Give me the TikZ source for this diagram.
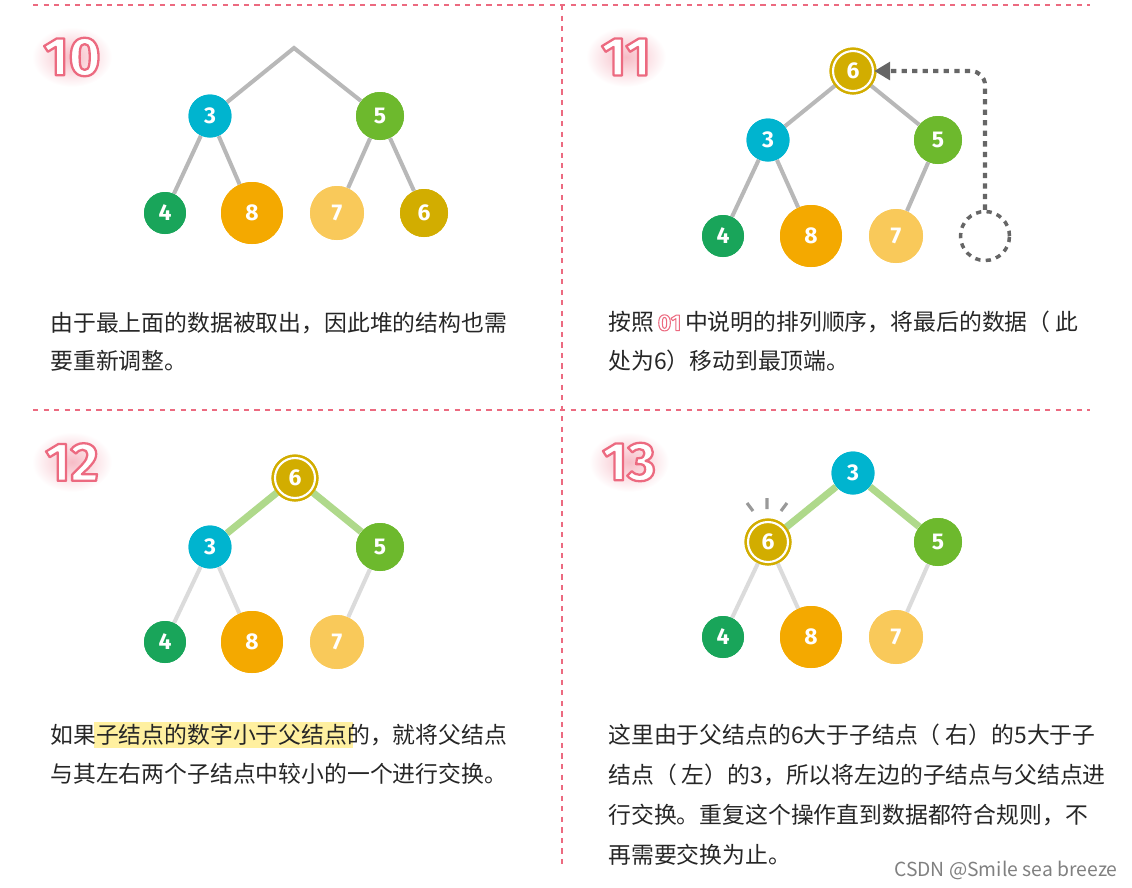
\documentclass[tikz,border=0pt]{standalone}
\usepackage{fontspec}
\setmainfont{Noto Sans CJK SC}
\newfontfamily\numfont{Fira Sans}
\usetikzlibrary{arrows.meta,calc}
\definecolor{cy}{HTML}{00B4CF}
\definecolor{gr}{HTML}{6DB92D}
\definecolor{dg}{HTML}{19A55A}
\definecolor{or}{HTML}{F4A900}
\definecolor{lo}{HTML}{F9C95A}
\definecolor{ol}{HTML}{D2AD00}
\definecolor{pk}{HTML}{EC6A80}
\definecolor{hl}{HTML}{FFF0A0}
\tikzset{
 nd/.style={circle,inner sep=0pt,text=white,font=\numfont\bfseries\fontsize{13}{13}\selectfont},
 n3/.style={nd,fill=cy,minimum size=0.86cm},
 n5/.style={nd,fill=gr,minimum size=0.96cm},
 n4/.style={nd,fill=dg,minimum size=0.84cm},
 n8/.style={nd,fill=or,minimum size=1.24cm},
 n7/.style={nd,fill=lo,minimum size=1.08cm},
 n6/.style={nd,fill=ol,minimum size=0.96cm},
 n6r/.style={nd,fill=ol,minimum size=0.8cm,double=white,draw=ol,double distance=1.2pt,line width=1.4pt},
 ed/.style={draw=black!28,line width=2.3pt},
 ge/.style={draw=gr!55,line width=4pt},
 le/.style={draw=black!14,line width=2.3pt},
 sep/.style={draw=pk,dashed,line width=0.8pt},
 tx/.style={anchor=west,inner sep=0pt,font=\fontsize{13}{14}\selectfont,text=black!85},
 bdg/.style={text=white,font=\numfont\bfseries\fontsize{31}{31}\selectfont},
}
\newcommand{\outl}[2]{\special{pdf:literal direct 0.925 0.416 0.5 RG #1 w 1 j 2 Tr}#2\special{pdf:literal direct 0 Tr}}
\newcommand{\badge}[4]{%
 \shade[inner color=pk!45,outer color=white] (#1,#2) ellipse (40 and 30);
 \node[bdg] (#4) at (#1,#2) {\outl{1.3}{#3}};}
\begin{document}
\begin{tikzpicture}[x=0.02cm,y=-0.02cm]
\useasboundingbox (0,0) rectangle (1132,887);
\draw[sep] (33,5) -- (1090,5);
\draw[sep] (33,410) -- (1090,410);
\draw[sep] (562,5) -- (562,865);
% panel 10
\badge{72}{57}{10}{g1}
\coordinate (top) at (294,48);
\node[n3] (a3) at (210,116) {3};
\node[n5] (a5) at (380,116) {5};
\node[n4] (a4) at (165,213) {4};
\node[n8] (a8) at (252,213) {8};
\node[n7] (a7) at (337,213) {7};
\node[n6] (a6) at (424,213) {6};
\draw[ed] (a3) -- (top) -- (a5);
\draw[ed] (a3) -- (a4); \draw[ed] (a3) -- (a8); \draw[ed] (a5) -- (a7); \draw[ed] (a5) -- (a6);
\node[n3] at (a3) {3};\node[n5] at (a5) {5};\node[n4] at (a4) {4};\node[n8] at (a8) {8};\node[n7] at (a7) {7};\node[n6] at (a6) {6};
\node[tx] (t1) at (50,323) {由于最上面的数据被取出，因此堆的结构也需};
\node[tx] (t2) at (50,361) {要重新调整。};
% panel 11
\badge{626}{57}{11}{g2}
\node[n6r] (b6) at (853,71) {6};
\node[n3] (b3) at (768,140) {3};
\node[n5] (b5) at (938,140) {5};
\node[n4] (b4) at (723,236) {4};
\node[n8] (b8) at (811,236) {8};
\node[n7] (b7) at (896,236) {7};
\node[circle,draw=black!60,line width=2pt,dash pattern=on 3pt off 3pt,minimum size=0.98cm] (bx) at (985,236) {};
\coordinate (c1) at (985,71);
\draw[ed] (b3) -- (b6) -- (b5); \draw[ed] (b3) -- (b4); \draw[ed] (b3) -- (b8); \draw[ed] (b5) -- (b7);
\node[n6r] at (b6) {6};\node[n3] at (b3) {3};\node[n5] at (b5) {5};\node[n4] at (b4) {4};\node[n8] at (b8) {8};\node[n7] at (b7) {7};
\draw[black!60,line width=2.3pt,dash pattern=on 3pt off 3pt,rounded corners=8pt,-{Triangle[length=9pt,width=10pt]}] (bx.north) -- (c1) -- (b6.east);
\node[tx] at (608,322) {按照\,{\numfont\bfseries\color{white}\outl{0.6}{01}}\,中说明的排列顺序，将最后的数据（ 此};
\node[tx] at (608,361) {处为6）移动到最顶端。};
% panel 12
\badge{72}{462}{12}{g3}
\node[n6r] (c6) at (295,478) {6};
\node[n3] (c3) at (210,547) {3};
\node[n5] (c5) at (380,547) {5};
\node[n4] (c4) at (165,642) {4};
\node[n8] (c8) at (252,642) {8};
\node[n7] (c7) at (337,642) {7};
\draw[ge] (c3) -- (c6) -- (c5);
\draw[le] (c3) -- (c4); \draw[le] (c3) -- (c8); \draw[le] (c5) -- (c7);
\node[n6r] at (c6) {6};\node[n3] at (c3) {3};\node[n5] at (c5) {5};\node[n4] at (c4) {4};\node[n8] at (c8) {8};\node[n7] at (c7) {7};
\fill[hl] (94,722) rectangle (353,748);
\node[tx] at (50,735) {如果子结点的数字小于父结点的，就将父结点};
\node[tx] at (50,774) {与其左右两个子结点中较小的一个进行交换。};
% panel 13
\badge{629}{462}{13}{g4}
\node[n3] (d3) at (853,473) {3};
\node[n6r] (d6) at (768,542) {6};
\node[n5] (d5) at (938,542) {5};
\node[n4] (d4) at (723,637) {4};
\node[n8] (d8) at (811,637) {8};
\node[n7] (d7) at (896,637) {7};
\draw[ge] (d6) -- (d3) -- (d5);
\draw[le] (d6) -- (d4); \draw[le] (d6) -- (d8); \draw[le] (d5) -- (d7);
\node[n3] at (d3) {3};\node[n6r] at (d6) {6};\node[n5] at (d5) {5};\node[n4] at (d4) {4};\node[n8] at (d8) {8};\node[n7] at (d7) {7};
\draw[black!40,line width=1.8pt] (767,498) -- (767,509) (747,503) -- (753,511) (787,503) -- (781,511);
\node[tx] at (608,735) {这里由于父结点的6大于子结点（ 右）的5大于子};
\node[tx] at (608,775) {结点（ 左）的3，所以将左边的子结点与父结点进};
\node[tx] at (608,815) {行交换。重复这个操作直到数据都符合规则，不};
\node[tx] at (608,855) {再需要交换为止。};
\node[anchor=east,inner sep=0pt,text=black!50,font=\fontsize{11}{12}\selectfont] at (1118,870) {CSDN @Smile sea breeze};
\end{tikzpicture}
\end{document}
